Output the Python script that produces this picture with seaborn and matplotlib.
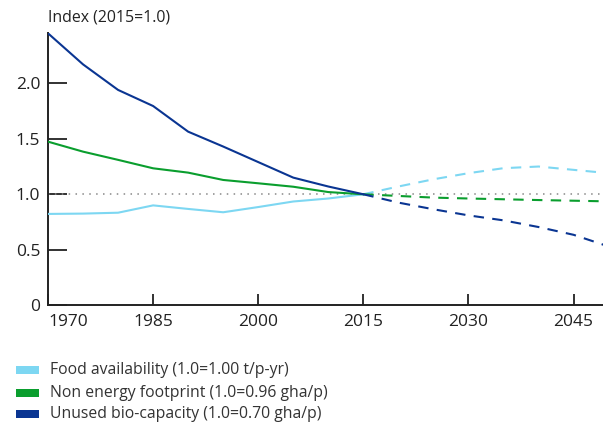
import matplotlib
matplotlib.use("Agg")
import matplotlib.pyplot as plt
import seaborn as sns
import pandas as pd
from matplotlib.patches import Rectangle

# Historical data (solid)
hist_years = [1970, 1975, 1980, 1985, 1990, 1995, 2000, 2005, 2010, 2015]
food_hist = [0.823, 0.826, 0.834, 0.900, 0.868, 0.838, 0.885, 0.935, 0.962, 1.0]
footprint_hist = [1.474, 1.384, 1.310, 1.234, 1.195, 1.129, 1.099, 1.068, 1.020, 1.0]
biocap_hist = [2.45, 2.17, 1.94, 1.795, 1.564, 1.43, 1.29, 1.15, 1.07, 1.0]

# Projections (dashed)
proj_years = [2015, 2020, 2025, 2030, 2035, 2040, 2045, 2050]
food_proj = [1.0, 1.07, 1.135, 1.19, 1.235, 1.25, 1.22, 1.19]
footprint_proj = [1.0, 0.985, 0.97, 0.962, 0.955, 0.948, 0.942, 0.936]
biocap_proj = [1.0, 0.925, 0.865, 0.81, 0.765, 0.705, 0.635, 0.53]

series_names = ["Food availability (1.0=1.00 t/p-yr)",
                "Non energy footprint (1.0=0.96 gha/p)",
                "Unused bio-capacity (1.0=0.70 gha/p)"]
colors = ["#7dd7f2", "#0a9e2e", "#0a3592"]

x_ticks = [1970, 1985, 2000, 2015, 2030, 2045]
y_ticks = [0, 0.5, 1.0, 1.5, 2.0]
y_tick_labels = ["0", "0.5", "1.0", "1.5", "2.0"]

sns.set_style("white")
plt.rcParams['font.family'] = ['Open Sans', 'DejaVu Sans']

fig = plt.figure(figsize=(6.03, 4.24), dpi=100)
ax = fig.add_axes([48 / 603, 1 - 305.3 / 424, 1 - 48 / 603, (305.3 - 33.3) / 424])

hists = [food_hist, footprint_hist, biocap_hist]
projs = [food_proj, footprint_proj, biocap_proj]

# reference dotted line at 1.0
ax.axhline(1.0, color="#888888", lw=1.1, ls=(0, (1, 3.5)), zorder=1)

for name, c, h, p in zip(series_names, colors, hists, projs):
    dfh = pd.DataFrame({"year": hist_years, "value": h})
    dfp = pd.DataFrame({"year": proj_years, "value": p})
    sns.lineplot(data=dfh, x="year", y="value", ax=ax, color=c, lw=1.5, zorder=3)
    sns.lineplot(data=dfp, x="year", y="value", ax=ax, color=c, lw=1.5,
                 zorder=3, dashes=False, linestyle=(0, (5, 4)))

ax.set_xlim(1970, 2049.2)
ax.set_ylim(0, 2.45)
ax.set_xlabel("")
ax.set_ylabel("")
ax.set_xticks(x_ticks)
ax.set_xticklabels([str(t) for t in x_ticks])
ax.set_yticks(y_ticks)
ax.set_yticklabels(y_tick_labels)

for s in ["top", "right"]:
    ax.spines[s].set_visible(False)
for s in ["left", "bottom"]:
    ax.spines[s].set_color("#222222")
    ax.spines[s].set_linewidth(1.4)

ax.tick_params(axis="y", direction="in", length=14, width=1.3, colors="#222222",
               labelsize=12.5, pad=5.5, left=True)
ax.tick_params(axis="x", direction="in", length=8, width=1.3, colors="#222222",
               labelsize=12.5, pad=6, bottom=True)
for lab in ax.get_yticklabels():
    lab.set_color("#222222")
xl = ax.get_xticklabels()
xl[0].set_horizontalalignment("left")

fig.text(48 / 603, 1 - 17 / 424, "Index (2015=1.0)", fontsize=11.4, color="#222222",
         ha="left", va="center")

# Legend
leg_y = [370, 393, 414]
for name, c, yy in zip(series_names, colors, leg_y):
    fig.patches.append(Rectangle((16 / 603, 1 - (yy + 4) / 424), 23 / 603, 8 / 424,
                                 transform=fig.transFigure, color=c, lw=0))
    fig.text(50 / 603, 1 - yy / 424, name, fontsize=11.3, color="#333333",
             ha="left", va="center")

fig.savefig("out.png", dpi=100)
